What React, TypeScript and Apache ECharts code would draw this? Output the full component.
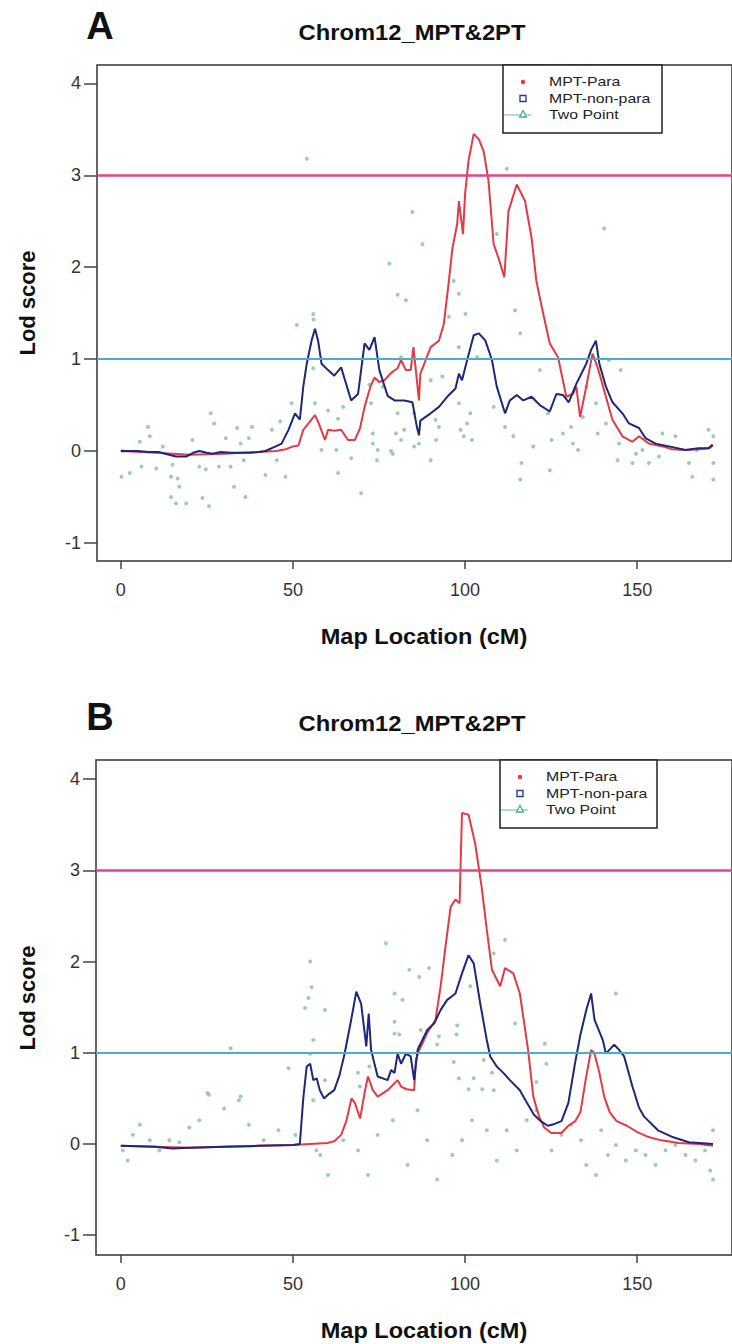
import React, { useEffect, useRef } from "react";
import * as echarts from "echarts";

const FONT = '"Liberation Sans", Arial, Helvetica, sans-serif';

const yTicks = [-1, 0, 1, 2, 3, 4];
const xTicks = [0, 50, 100, 150];
const panelLetters = ["A", "B"];
const chartTitle = "Chrom12_MPT&2PT";
const xName = "Map Location (cM)";
const yName = "Lod score";
const legendNames = ["MPT-Para", "MPT-non-para", "Two Point"];
const thresholdHigh = 3;
const thresholdLow = 1;

// Panel A
const redA: number[][] = [
  [0, 0], [10, -0.02], [20, -0.04], [30, -0.03], [40, -0.01], [45, 0], [48, 0.02], [50, 0.05], [51.6, 0.06],
  [53, 0.23], [54.5, 0.3], [56.4, 0.39], [57.5, 0.3], [59.3, 0.12], [60.2, 0.23], [62, 0.22], [64, 0.23],
  [66, 0.12], [68, 0.12], [69.5, 0.25], [70.8, 0.48], [72.5, 0.7], [73.7, 0.8], [75, 0.75], [76.6, 0.77],
  [78.5, 0.85], [80.4, 0.9], [81.4, 0.99], [82.8, 0.88], [84.2, 0.88], [85, 1.13], [86.6, 0.55], [87, 0.84],
  [90, 1.13], [92.4, 1.2], [93.8, 1.38], [95.3, 1.85], [96.3, 2.2], [97.7, 2.47], [98.2, 2.72], [99.4, 2.36],
  [100, 2.8], [101, 3.16], [102.5, 3.45], [104, 3.39], [105.4, 3.26], [106.8, 2.94], [108.3, 2.25], [109.7, 2.1],
  [111.4, 1.89], [112.6, 2.61], [115, 2.9], [117.4, 2.72], [119.3, 2.32], [120.7, 1.85], [122.7, 1.49],
  [124.6, 1.17], [127, 1.02], [129.4, 0.59], [131.3, 0.62], [132.3, 0.7], [133.4, 0.37], [135.2, 0.7],
  [137, 1.06], [138.5, 0.91], [140.9, 0.59], [142.8, 0.34], [145.7, 0.16], [148.6, 0.1], [150.5, 0.16],
  [153.4, 0.08], [157.3, 0.05], [160, 0.02], [164, 0.01], [168, 0.02], [171, 0.03], [172, 0.06],
];
const blueA: number[][] = [
  [0, 0], [5, 0], [8, -0.01], [11, -0.01], [14, -0.04], [16, -0.06], [19, -0.06], [21, -0.02], [22.8, 0],
  [25, -0.02], [26.6, -0.03], [29, -0.01], [32, -0.02], [35, -0.02], [37.8, -0.02], [40, -0.01], [42, 0],
  [45, 0.05], [46.7, 0.08], [48.7, 0.23], [50.6, 0.41], [52, 0.34], [53, 0.7], [54, 0.95], [55.4, 1.2],
  [56.4, 1.33], [57.3, 1.2], [58.3, 0.95], [60.2, 0.88], [62, 0.82], [64, 0.91], [66.9, 0.55], [68.9, 0.62],
  [70.8, 1.17], [72.2, 1.1], [73.7, 1.24], [75.1, 0.88], [77.5, 0.6], [79.5, 0.55], [82.3, 0.55], [84.7, 0.53],
  [86, 0.26], [86.6, 0.17], [87, 0.33], [90, 0.41], [92.4, 0.48], [94.8, 0.59], [97.2, 0.68], [98.2, 0.84],
  [99.1, 0.77], [100.6, 0.99], [102.5, 1.26], [104, 1.28], [105.9, 1.2], [107.8, 0.99], [109.2, 0.7],
  [111.6, 0.41], [113, 0.55], [115, 0.61], [116.9, 0.55], [119.3, 0.59], [121.7, 0.5], [124.6, 0.43],
  [126.5, 0.62], [128.4, 0.61], [130.1, 0.53], [132.3, 0.73], [135.2, 0.95], [136.6, 1.1], [138, 1.2],
  [139, 0.95], [140.9, 0.7], [142.8, 0.53], [145.7, 0.41], [147.6, 0.3], [150.5, 0.25], [152.4, 0.14],
  [155.3, 0.08], [159.2, 0.05], [164, 0.01], [167.8, 0.03], [170.7, 0.03], [171.9, 0.07],
];
const twoPointA: number[][] = [
  [0.6, 0], [0.2, -0.28], [2.6, -0.24], [5.5, 0.1], [7.9, 0.26], [6, -0.17], [10.3, -0.19], [8.4, 0.16],
  [12.2, 0.05], [15, -0.15], [14.6, -0.28], [16.5, -0.3], [17, -0.39], [14.6, -0.5], [16, -0.57], [19, -0.57],
  [20.8, 0.12], [23.7, -0.51], [25.6, -0.6], [22.8, -0.17], [24.7, -0.2], [26.1, 0.41], [27.1, 0.3],
  [28.5, -0.17], [30.5, 0.14], [31.9, -0.17], [32.9, -0.39], [33.8, 0.25], [34.8, 0.08], [35.7, -0.1],
  [36.2, -0.5], [37.2, 0.14], [38.1, 0.26], [42, -0.26], [43.9, 0.23], [45.3, -0.1], [46.3, 0.32],
  [47.8, -0.28], [51.1, 1.37], [49.6, 0.52], [55.9, 1.49], [56, 1.43], [55.9, 0.9], [56.4, 0.52], [58.3, 0.01],
  [60.2, 0.44], [62.6, 0.01], [63.1, 0.35], [63.1, -0.24], [64.6, 0.48], [66.9, -0.08], [69.8, -0.46],
  [72.7, 0.52], [73.2, 0.08], [73.2, 0.19], [74.4, -0.1], [78.5, 0], [78, 2.04], [80.4, 1.7], [72.2, 0.72],
  [54, 3.18], [84.7, 2.6], [87.6, 2.25], [82.8, 1.64], [112.1, 3.07], [109.2, 2.36], [96.7, 1.85],
  [98.2, 1.71], [100.1, 1.49], [95.3, 1.46], [114.5, 1.53], [116, 1.28], [140.4, 2.42], [98.2, 1.13],
  [103.5, 1.02], [93.4, 0.81], [90, 0.77], [81.4, 1.02], [76.1, 0.7], [74.6, 0.01], [80.4, 0.41], [82.3, 0.23],
  [81.4, 0.12], [79, -0.03], [85.2, 0.05], [86.6, 0.08], [90, -0.1], [91.4, 0.34], [92.4, 0.26], [98.2, 0.52],
  [98.7, 0.23], [99.6, 0.16], [101.5, 0.41], [102, 0.12], [100.6, 0.3], [91.6, 0.12], [108.3, 0.48],
  [111.6, 0.26], [114, 0.16], [116.4, -0.13], [116, -0.31], [119.8, 0.05], [121.7, 0.88], [124.1, 0.41],
  [125.1, 0.12], [124.6, -0.21], [128.4, 0.19], [131.3, 0.08], [130.8, 0.26], [132.8, 0.01], [134.2, 0.37],
  [135.2, 0.7], [138, 0.52], [138.5, 0.19], [140.9, 0.3], [141.8, 0.99], [145.2, 0.88], [144.7, 0.08],
  [144.3, -0.1], [148.6, -0.13], [149.6, -0.03], [151.5, 0.01], [153.4, -0.13], [156.3, -0.06], [161.1, 0.16],
  [165, -0.13], [166, -0.28], [167.3, 0.01], [170.7, 0.23], [172.1, 0.16], [172.1, -0.13], [172.1, -0.31],
  [157.3, 0.19], [79.9, 0.19], [85.2, 0.41],
];

// Panel B
const redB: number[][] = [
  [0, -0.02], [10, -0.03], [20, -0.04], [30, -0.03], [40, -0.02], [50, -0.01], [55, 0], [60, 0.01], [62, 0.03],
  [64, 0.1], [65.5, 0.25], [67, 0.5], [68, 0.45], [69.5, 0.28], [71, 0.6], [71.8, 0.74], [73.2, 0.59],
  [74.6, 0.52], [77.5, 0.59], [80.4, 0.7], [81.4, 0.63], [83, 0.6], [85.2, 0.59], [85.7, 0.92], [86.7, 1.03],
  [89, 1.22], [91.4, 1.36], [92.9, 1.73], [94.3, 2.16], [95.8, 2.6], [97.2, 2.68], [98.4, 2.64], [99.1, 3.63],
  [101, 3.61], [102.9, 3.3], [104.8, 2.82], [106.3, 2.35], [107.8, 1.91], [110.2, 1.73], [111.6, 1.93],
  [114, 1.87], [115.9, 1.65], [118.3, 1.03], [119.8, 0.52], [121.5, 0.3], [123, 0.18], [125, 0.12], [128, 0.12],
  [130, 0.2], [132, 0.25], [133.5, 0.35], [135, 0.7], [136.6, 1.03], [137.5, 1.0], [139, 0.78], [140.4, 0.52],
  [142, 0.35], [144, 0.25], [147, 0.2], [150, 0.13], [153, 0.08], [157, 0.04], [162, 0.01], [168, 0], [172, -0.02],
];
const blueB: number[][] = [
  [0, -0.02], [10, -0.03], [15, -0.05], [20, -0.04], [30, -0.03], [40, -0.02], [50, -0.01], [52, 0], [53, 0.5],
  [54, 0.85], [55, 0.88], [55.9, 0.7], [56.9, 0.72], [57.8, 0.59], [59, 0.5], [60.5, 0.55], [62, 0.59],
  [63.5, 0.75], [65, 0.99], [66.9, 1.36], [68.4, 1.67], [69.8, 1.54], [71.3, 1.07], [72, 1.43], [72.7, 1.03],
  [74.6, 0.74], [77.5, 0.7], [78.5, 0.81], [79.5, 0.78], [80.4, 0.99], [81.4, 0.88], [82.8, 0.99], [84.2, 0.96],
  [85.2, 0.7], [86.2, 1.03], [89, 1.25], [91, 1.32], [92.9, 1.47], [94.8, 1.58], [97.2, 1.65], [99.1, 1.87],
  [101, 2.07], [102.5, 1.98], [104.4, 1.54], [106.3, 1.14], [107.3, 0.96], [109.2, 0.85], [111.1, 0.78],
  [113, 0.7], [115.9, 0.59], [118, 0.45], [120, 0.32], [122, 0.25], [124, 0.2], [126, 0.22], [128, 0.25],
  [130, 0.45], [132, 0.9], [133.5, 1.2], [135.2, 1.47], [136.6, 1.65], [137.6, 1.36], [140, 1.14], [140.9, 0.99],
  [143.3, 1.09], [144.3, 1.05], [146.2, 0.96], [148.6, 0.63], [150.5, 0.4], [152, 0.3], [156, 0.15], [160, 0.08],
  [165, 0.02], [172, 0],
];
const twoPointB: number[][] = [
  [55, 2.0], [55.4, 1.72], [54.5, 1.6], [53.5, 1.49], [59.3, 1.47], [55.9, 1.14], [77, 2.2], [79.5, 1.65],
  [79.5, 1.21], [31.9, 1.05], [48.7, 0.83], [55, 0.99], [59.3, 0.7], [68.9, 0.78], [69.4, 0.63], [72.2, 0.85],
  [25.2, 0.56], [34.8, 0.52], [83.8, 1.91], [86.7, 1.83], [89.5, 1.93], [81.8, 1.58], [79.5, 1.34], [87.1, 1.25],
  [86.7, 1.07], [80.9, 1.2], [92.4, 1.18], [91.9, 1.09], [97.7, 1.3], [97.5, 1.2], [101.5, 1.73], [111.6, 2.24],
  [108.3, 2.09], [114.5, 1.32], [123.1, 1.1], [123.6, 0.88], [143.8, 1.65], [96.7, 0.9], [98.2, 0.72],
  [102.5, 0.72], [105.4, 0.92], [107.8, 0.78], [108.3, 0.59], [105, 0.6], [101, 0.6], [120.7, 0.68],
  [0.6, -0.07], [2, -0.18], [3.5, 0.1], [5.5, 0.21], [8.4, 0.04], [11.2, -0.07], [14.1, 0.04], [17, 0.02],
  [19.9, 0.18], [22.8, 0.26], [25.6, 0.54], [30, 0.39], [34.3, 0.48], [37.2, 0.21], [41.5, 0.04], [45.8, 0.15],
  [50.7, 0.1], [55.9, 0.48], [56.8, -0.07], [57.9, -0.12], [60.2, -0.34], [64.6, 0.04], [68.9, -0.07],
  [71.8, -0.34], [74.6, 0.1], [79, 0.26], [83.3, -0.23], [86.2, 0.37], [89, 0.04], [91.9, -0.39], [96.3, -0.12],
  [99.1, 0.04], [102, 0.26], [106.3, 0.15], [109.2, -0.18], [112.1, 0.15], [115, -0.07], [117.9, 0.26],
  [120.7, 0.37], [125.1, -0.07], [128, 0.1], [130.8, 0.21], [133.7, 0.04], [135.2, -0.23], [138, -0.34],
  [139.5, 0.15], [141.5, -0.12], [143.8, -0.01], [146.7, -0.18], [149.6, -0.07], [152.4, -0.12], [155.3, -0.23],
  [158.2, -0.07], [161.1, -0.01], [164, -0.12], [166.9, -0.18], [169.7, -0.07], [171.2, -0.29], [172, -0.39],
  [172, 0.15],
];

const RED = "#e43a45";
const BLUE = "#1d2878";
const GREEN = "#8cc3a8";
const PINK = "#e0458f";
const TEAL = "#4eadc4";

export default function App() {
  const ref = useRef<HTMLDivElement>(null);
  useEffect(() => {
    const chart = echarts.init(ref.current!, null, { renderer: "svg" });

    const panels = [
      { top: 65, left: 97, height: 496, yMin: -1.197, yMax: 4.2, red: redA, blue: blueA, pts: twoPointA, titleY: 32, letterY: 26, xNameY: 636, yNameY: 303, leg: { x: 503, y: 65, w: 159, h: 68 } },
      { top: 760, left: 96, height: 495, yMin: -1.217, yMax: 4.21, red: redB, blue: blueB, pts: twoPointB, titleY: 723, letterY: 717, xNameY: 1330, yNameY: 998, leg: { x: 500, y: 760, w: 157, h: 68 } },
    ];
    const pxPerCM = 3.47;
    const x0px = 121;

    const grid = panels.map((p) => ({
      left: p.left,
      top: p.top,
      width: 737 - p.left,
      height: p.height,
      show: true,
      borderColor: "#333",
      borderWidth: 1.5,
      backgroundColor: "transparent",
    }));
    const xAxis = panels.map((p, i) => ({
      gridIndex: i,
      type: "value",
      min: (p.left - x0px) / pxPerCM,
      max: (737 - x0px) / pxPerCM,
      axisLine: { show: false, onZero: false },
      splitLine: { show: false },
      axisTick: { show: true, length: 8, customValues: xTicks, lineStyle: { color: "#444", width: 1.5 } },
      axisLabel: { customValues: xTicks, margin: 20, fontSize: 18, color: "#333", fontFamily: FONT },
    }));
    const yAxis = panels.map((p, i) => ({
      gridIndex: i,
      type: "value",
      min: p.yMin,
      max: p.yMax,
      axisLine: { show: false, onZero: false },
      splitLine: { show: false },
      axisTick: { show: true, length: 13, customValues: yTicks, lineStyle: { color: "#444", width: 1.5 } },
      axisLabel: { customValues: yTicks, margin: 16, fontSize: 18, color: "#333", fontFamily: FONT },
    }));

    const series: any[] = [];
    panels.forEach((p, i) => {
      series.push({
        type: "scatter",
        name: legendNames[2],
        xAxisIndex: i,
        yAxisIndex: i,
        data: p.pts,
        symbol: "circle",
        symbolSize: 4,
        itemStyle: { color: GREEN, opacity: 0.85 },
        z: 2,
        silent: true,
      });
      series.push({
        type: "line",
        name: legendNames[0],
        xAxisIndex: i,
        yAxisIndex: i,
        data: p.red,
        showSymbol: false,
        lineStyle: { color: RED, width: 2 },
        z: 3,
        markLine: {
          silent: true,
          symbol: ["none", "none"],
          label: { show: false },
          data: [
            { yAxis: thresholdHigh, lineStyle: { color: PINK, width: 2.5, type: "solid" } },
            { yAxis: thresholdLow, lineStyle: { color: TEAL, width: 2, type: "solid" } },
          ],
        },
      });
      series.push({
        type: "line",
        name: legendNames[1],
        xAxisIndex: i,
        yAxisIndex: i,
        data: p.blue,
        showSymbol: false,
        lineStyle: { color: BLUE, width: 2 },
        z: 4,
      });
    });

    const txt = (text: string, x: number, y: number, size: number, extra: any = {}) => ({
      type: "text",
      x,
      y,
      z: 100,
      ...extra,
      style: {
        text,
        fontFamily: FONT,
        fontSize: size,
        fontWeight: "bold",
        fill: "#111",
        align: "center",
        verticalAlign: "middle",
        textAlign: "center",
        textVerticalAlign: "middle",
      },
    });

    const graphic: any[] = [];
    panels.forEach((p, i) => {
      graphic.push(txt(panelLetters[i], 100, p.letterY, 38));
      graphic.push(txt(chartTitle, 412, p.titleY, 22, { scaleX: 1.08 }));
      graphic.push(txt(xName, 424, p.xNameY, 22, { scaleX: 1.07 }));
      graphic.push(txt(yName, 27, p.yNameY, 22, { rotation: Math.PI / 2 }));
      const L = p.leg;
      const legText = (t: string, y: number) => ({
        type: "text",
        x: 46,
        y,
        scaleX: 1.22,
        style: {
          text: t,
          fontFamily: FONT,
          fontSize: 13,
          fill: "#222",
          align: "left",
          verticalAlign: "middle",
          textAlign: "left",
          textVerticalAlign: "middle",
        },
      });
      graphic.push({
        type: "group",
        x: L.x,
        y: L.y,
        z: 100,
        children: [
          { type: "rect", shape: { x: 0, y: 0, width: L.w, height: L.h }, style: { fill: "#fff", stroke: "#222", lineWidth: 1.5 } },
          { type: "circle", shape: { cx: 20, cy: 17, r: 2.2 }, style: { fill: RED } },
          { type: "rect", shape: { x: 17, y: 30.5, width: 6, height: 6 }, style: { fill: "none", stroke: "#2c3c8c", lineWidth: 1.4 } },
          { type: "line", shape: { x1: 1, y1: 50, x2: 28, y2: 50 }, style: { stroke: "#6cb8a0", lineWidth: 1 } },
          { type: "polygon", shape: { points: [[20, 45.5], [16.5, 52], [23.5, 52]] }, style: { fill: "#fff", stroke: "#4fa88c", lineWidth: 1.3 } },
          legText(legendNames[0], 17),
          legText(legendNames[1], 33.5),
          legText(legendNames[2], 50),
        ],
      });
    });

    chart.setOption({
      animation: false,
      backgroundColor: "#fff",
      grid,
      xAxis,
      yAxis,
      series,
      graphic,
    });
    return () => chart.dispose();
  }, []);
  return (
    <div
      ref={ref}
      style={{ position: "fixed", left: 0, top: 0, width: 732, height: 1344, background: "#fff" }}
    />
  );
}
